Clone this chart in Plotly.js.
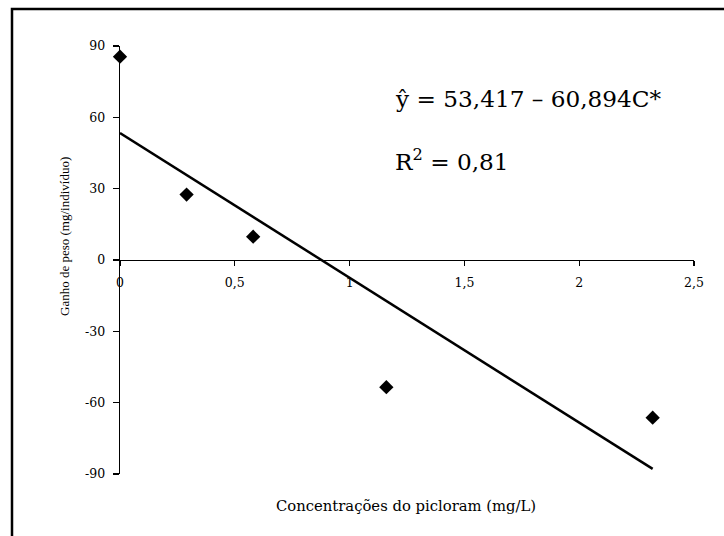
<!DOCTYPE html>
<html>
<head>
<meta charset="utf-8">
<script src="https://cdn.plot.ly/plotly-3.0.1.min.js"></script>
<style>
  html, body { margin: 0; padding: 0; background: #fff; }
  #chart { width: 724px; height: 536px; }
</style>
</head>
<body>
<div id="chart"></div>
<script>
// Observed weight gain per picloram concentration
const concentracoes = [0, 0.29, 0.58, 1.16, 2.32];
const ganhoPeso = [85.5, 27.5, 9.8, -53.5, -66.3];

// Linear fit: y = 53,417 - 60,894 C
const intercepto = 53.417;
const inclinacao = -60.894;
const ajusteX = [0, 2.32];
const ajusteY = ajusteX.map(c => intercepto + inclinacao * c);

// Axis ticks
const xTicks = [0, 0.5, 1, 1.5, 2, 2.5];
const xTickText = ['0', '0,5', '1', '1,5', '2', '2,5'];
const yTicks = [-90, -60, -30, 0, 30, 60, 90];
const yTickText = ['-90', '-60', '-30', '0', '30', '60', '90'];

const wideSerif = 'DejaVu Serif, serif';
const serif = 'Liberation Serif, Times New Roman, serif';

const traces = [
  {
    x: ajusteX,
    y: ajusteY,
    mode: 'lines',
    line: { color: '#000', width: 2.5 },
    hoverinfo: 'skip',
    showlegend: false
  },
  {
    x: concentracoes,
    y: ganhoPeso,
    mode: 'markers',
    marker: { symbol: 'diamond', size: 11, color: '#000' },
    cliponaxis: false,
    showlegend: false
  }
];

const layout = {
  width: 724,
  height: 536,
  margin: { l: 120, r: 30, t: 46, b: 62 },
  paper_bgcolor: '#fff',
  plot_bgcolor: '#fff',
  separators: ',.',
  font: { family: serif, color: '#000', size: 12 },
  showlegend: false,
  xaxis: {
    range: [0, 2.5],
    anchor: 'free',
    position: 0.5,
    showline: true,
    linecolor: '#000',
    linewidth: 1.3,
    showgrid: false,
    zeroline: false,
    ticks: 'outside',
    ticklen: 5,
    tickwidth: 1.3,
    tickcolor: '#000',
    ticklabelstandoff: 6,
    tickvals: xTicks,
    ticktext: xTickText,
    tickfont: { family: wideSerif, size: 12.5, color: '#000' }
  },
  yaxis: {
    range: [-90, 90],
    showline: true,
    linecolor: '#000',
    linewidth: 1.3,
    showgrid: false,
    zeroline: false,
    ticks: 'outside',
    ticklen: 6,
    tickwidth: 1.3,
    tickcolor: '#000',
    ticklabelstandoff: 5,
    tickvals: yTicks,
    ticktext: yTickText,
    tickfont: { family: wideSerif, size: 12.5, color: '#000' }
  },
  shapes: [
    {
      type: 'rect',
      xref: 'paper', yref: 'paper',
      x0: -108 / 574, x1: 1.08,
      y0: -0.2, y1: (474 - 9) / 428,
      line: { color: '#000', width: 2.5 },
      fillcolor: 'rgba(0,0,0,0)',
      layer: 'above'
    }
  ],
  annotations: [
    {
      text: 'Concentrações do picloram (mg/L)',
      xref: 'paper', yref: 'paper',
      x: (406 - 120) / 574, y: (474 - 505) / 428,
      xanchor: 'center', yanchor: 'middle',
      showarrow: false,
      font: { family: wideSerif, size: 14.8, color: '#000' }
    },
    {
      text: 'Ganho de peso (mg/indivíduo)',
      xref: 'paper', yref: 'paper',
      x: (64 - 120) / 574, y: (474 - 237) / 428,
      xanchor: 'center', yanchor: 'middle',
      textangle: -90,
      showarrow: false,
      font: { family: serif, size: 13, color: '#000' }
    },
    {
      text: 'ŷ = 53,417 – 60,894C*',
      xref: 'paper', yref: 'paper',
      x: (393 - 120) / 574, y: (474 - 98) / 428,
      xanchor: 'left', yanchor: 'middle',
      showarrow: false,
      font: { family: wideSerif, size: 23.2, color: '#000' }
    },
    {
      text: 'R<sup>2</sup> = 0,81',
      xref: 'paper', yref: 'paper',
      x: (393 - 120) / 574, y: (474 - 160) / 428,
      xanchor: 'left', yanchor: 'middle',
      showarrow: false,
      font: { family: wideSerif, size: 23.2, color: '#000' }
    }
  ]
};

Plotly.newPlot('chart', traces, layout, { displayModeBar: false, staticPlot: true });
</script>
</body>
</html>
